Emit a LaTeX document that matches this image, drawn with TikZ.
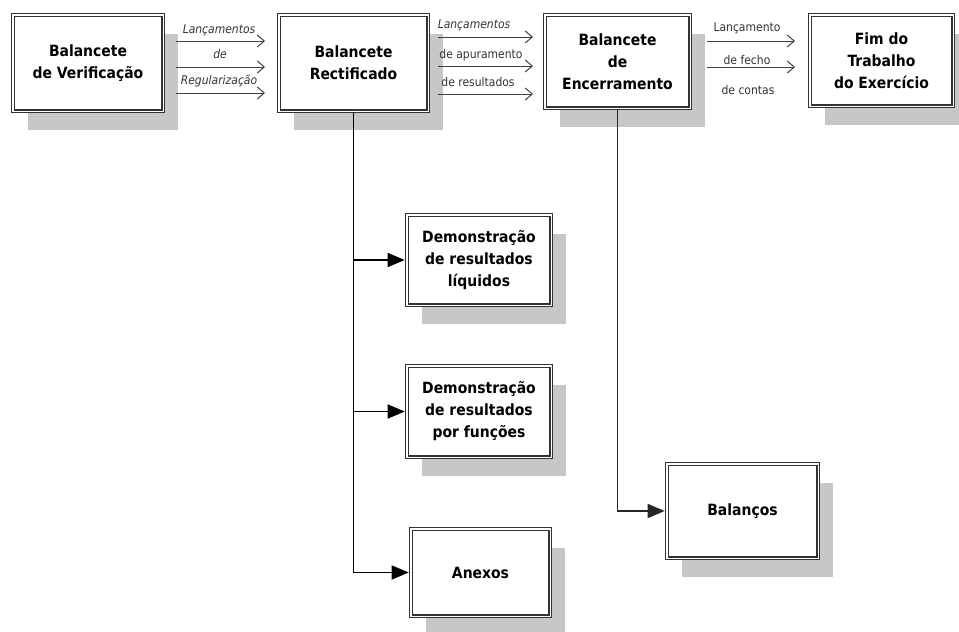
\documentclass[tikz,border=0pt]{standalone}
\usepackage{fontspec}
\setmainfont{DejaVu Sans Condensed}
\usetikzlibrary{arrows.meta,shadows}
\begin{document}
\begin{tikzpicture}[x=1pt,y=-1pt,
  box/.style={draw=black!80, double=white, double distance=1.5pt, line width=1.1pt,
    fill=white, inner sep=0pt, align=center, font=\fontsize{15.5}{22}\selectfont\bfseries,
    general shadow={fill=black!22, shadow xshift=15pt, shadow yshift=-19pt}},
  flow/.style={draw=black!75, line width=1pt, -{Straight Barb[length=7pt,width=12pt]}},
  lbl/.style={font=\fontsize{12}{14}\selectfont, text=black!80, inner sep=0pt},
  ilbl/.style={lbl, font=\fontsize{12}{14}\selectfont\itshape},
  conn/.style={draw=black, line width=1.5pt, shorten >=1.5pt, -{Triangle[length=17pt,width=14pt]}}
]
\useasboundingbox (0,0) rectangle (959,632);

\node[box, minimum width=150.5pt, minimum height=96.5pt] (b1) at (88,63) {Balancete\\de Verificação};
\node[box, minimum width=149.5pt, minimum height=96.5pt] (b2) at (353.5,63) {Balancete\\Rectificado};
\node[box, minimum width=145.5pt, minimum height=93.5pt] (b3) at (617.5,61.5) {Balancete\\de\\Encerramento};
\node[box, minimum width=143.5pt, minimum height=91.5pt] (b4) at (881.5,60.5) {Fim do\\Trabalho\\do Exercício};
\node[box, minimum width=144.5pt, minimum height=90.5pt] (drl) at (479,260) {Demonstração\\de resultados\\líquidos};
\node[box, minimum width=144.5pt, minimum height=91.5pt] (drf) at (479,411.5) {Demonstração\\de resultados\\por funções};
\node[box, minimum width=139.5pt, minimum height=87.5pt] (anx) at (480.5,572.5) {Anexos};
\node[box, minimum width=151.5pt, minimum height=94.5pt] (bal) at (742.5,511) {Balanços};

% arrows b1 -> b2
\coordinate (a1s) at (176,41); \coordinate (a1e) at (265,41);
\coordinate (a2s) at (176,67); \coordinate (a2e) at (265,67);
\coordinate (a3s) at (176,93); \coordinate (a3e) at (265,93);
\draw[flow] (a1s) -- (a1e);
\draw[flow] (a2s) -- (a2e);
\draw[flow] (a3s) -- (a3e);
\node[ilbl] (l11) at (219,30) {Lançamentos};
\node[ilbl] (l12) at (220,54) {de};
\node[ilbl] (l13) at (219,81) {Regularização};

% arrows b2 -> b3
\coordinate (c1s) at (438,37); \coordinate (c1e) at (533,37);
\coordinate (c2s) at (438,66); \coordinate (c2e) at (533,66);
\coordinate (c3s) at (438,94); \coordinate (c3e) at (533,94);
\draw[flow] (c1s) -- (c1e);
\draw[flow] (c2s) -- (c2e);
\draw[flow] (c3s) -- (c3e);
\node[ilbl] (l21) at (474,25) {Lançamentos};
\node[lbl] (l22) at (481,55) {de apuramento};
\node[lbl] (l23) at (478,82) {de resultados};

% arrows b3 -> b4
\coordinate (d1s) at (707,41); \coordinate (d1e) at (795,41);
\coordinate (d2s) at (707,67); \coordinate (d2e) at (795,67);
\draw[flow] (d1s) -- (d1e);
\draw[flow] (d2s) -- (d2e);
\node[lbl] (l31) at (747,28) {Lançamento};
\node[lbl] (l32) at (747,60) {de fecho};
\node[lbl] (l33) at (748,90) {de contas};

% vertical connectors
\draw[conn] (b2.south) |- (drl.west);
\draw[conn] (b2.south) |- (drf.west);
\draw[conn] (b2.south) |- (anx.west);
\draw[conn, draw=black!85] (b3.south) |- (bal.west);
\end{tikzpicture}
\end{document}
